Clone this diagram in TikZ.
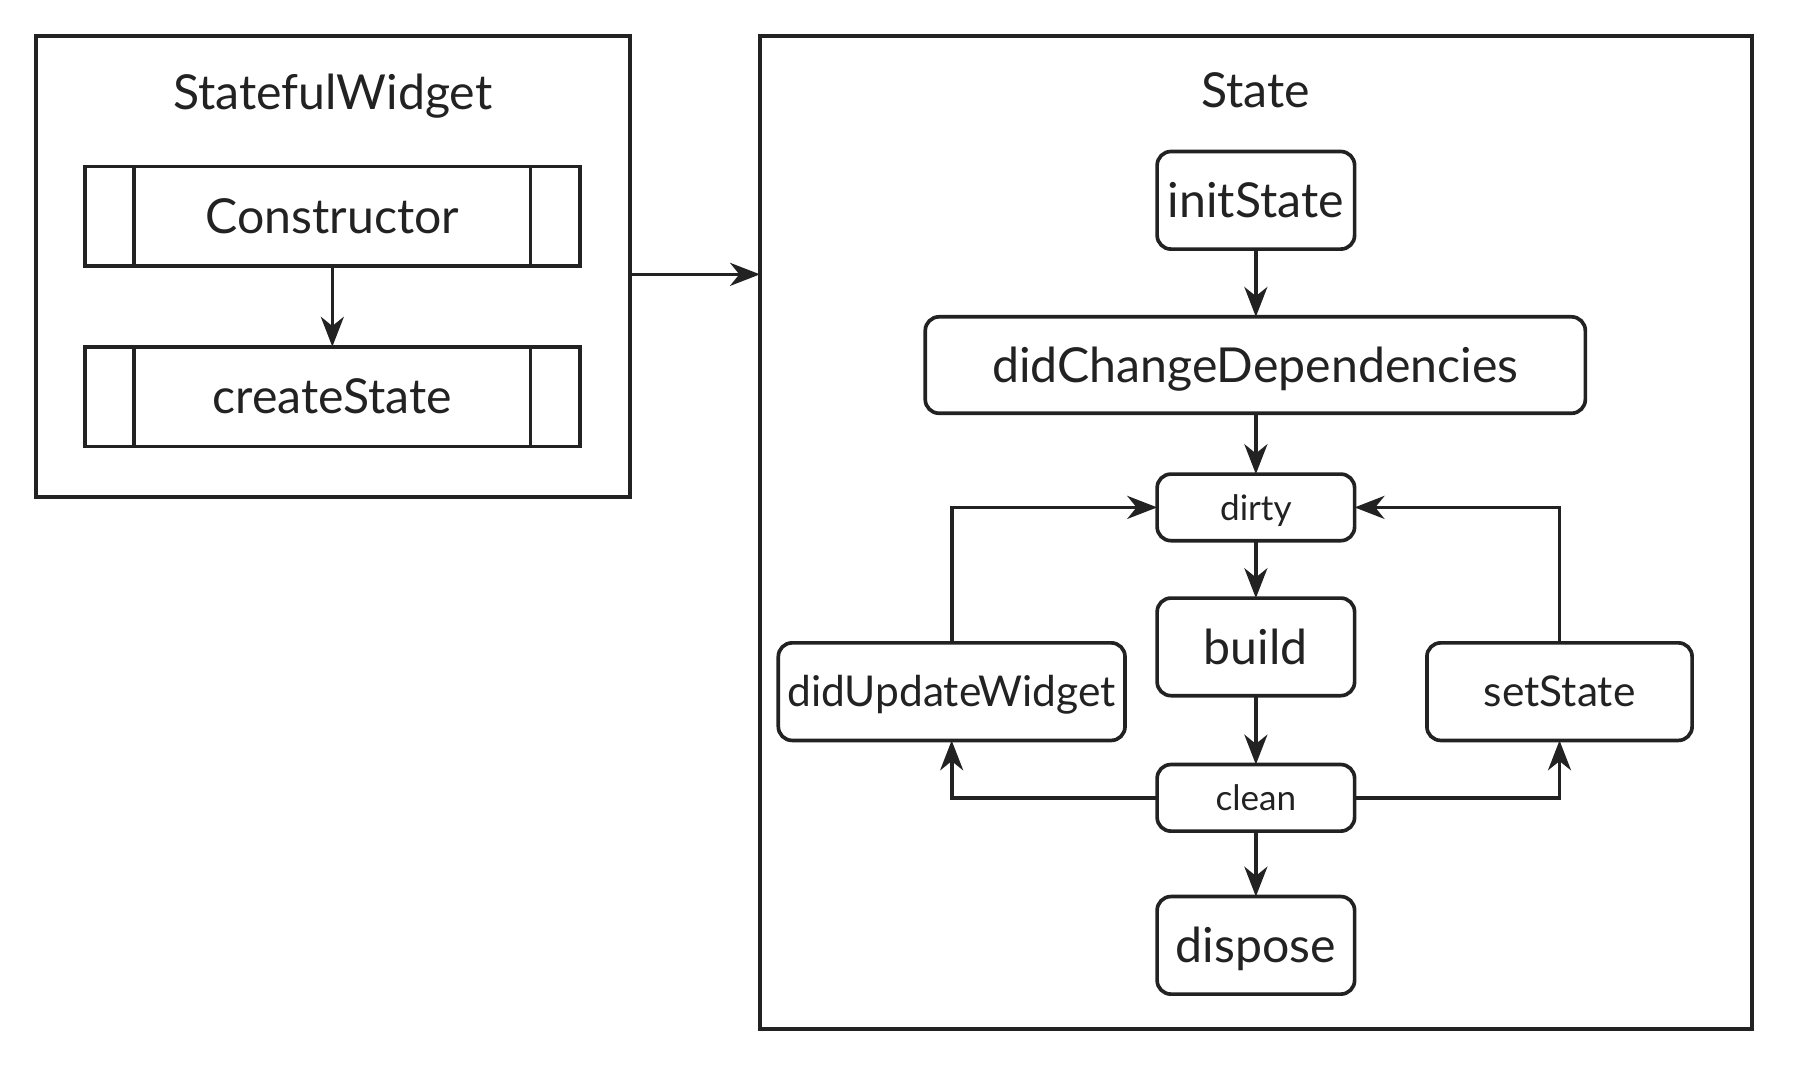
\documentclass[tikz,border=0pt]{standalone}
\usepackage{fontspec}
\setmainfont{Lato}
\usetikzlibrary{arrows.meta,calc}
\definecolor{ink}{HTML}{222222}
\begin{document}
\begin{tikzpicture}[x=0.5pt,y=-0.5pt,
  every node/.style={inner sep=0pt, outer sep=0pt, text=ink},
  outer/.style={draw=ink, line width=1.7pt},
  procbox/.style={draw=ink, line width=1.6pt, minimum width=215.5pt, minimum height=43.5pt},
  rbox/.style={draw=ink, line width=1.6pt, rounded corners=6pt},
  big/.style={font=\fontsize{21}{25}\selectfont, text height=15pt, text depth=0pt},
  mid/.style={font=\fontsize{18.5}{22}\selectfont, text height=13.3pt, text depth=0pt},
  small/.style={font=\fontsize{15.3}{18}\selectfont, text height=11pt, text depth=0pt},
  title/.style={font=\fontsize{21}{25}\selectfont, anchor=base},
  arr/.style={draw=ink, line width=1.6pt, -{Stealth[length=13pt,width=10pt,inset=4pt]}},
]
\useasboundingbox (0,0) rectangle (1568,930);

% outer containers
\node[outer, minimum width=259pt, minimum height=201pt] (sw) at (290,232) {};
\node[outer, minimum width=432pt, minimum height=432.5pt] (st) at (1094,463.5) {};
\node[title] (swt) at (290,95) {StatefulWidget};
\node[title] (stt) at (1094,94) {State};

% predefined-process boxes
\node[procbox, big] (cons) at (289.5,188.5) {Constructor};
\node[procbox, big] (cst) at (289.5,345.5) {createState};
\foreach \n in {cons,cst}{
  \draw[draw=ink, line width=1.6pt] ($(\n.north west)+(43,0)$) -- ($(\n.south west)+(43,0)$);
  \draw[draw=ink, line width=1.6pt] ($(\n.north east)+(-43,0)$) -- ($(\n.south east)+(-43,0)$);
}

% state nodes
\node[rbox, big, minimum width=86pt, minimum height=42.5pt] (init) at (1094,174.5) {initState};
\node[rbox, big, minimum width=287.5pt, minimum height=42pt] (dcd) at (1093.5,318) {didChangeDependencies};
\node[rbox, small, minimum width=86pt, minimum height=29pt] (dirty) at (1094,442) {dirty};
\node[rbox, big, minimum width=86pt, minimum height=42.5pt] (build) at (1094,563.5) {build};
\node[rbox, small, minimum width=86pt, minimum height=29pt] (clean) at (1094,695) {clean};
\node[rbox, big, minimum width=86pt, minimum height=42.5pt] (disp) at (1094,823.5) {dispose};
\node[rbox, mid, minimum width=151pt, minimum height=42.5pt] (duw) at (829,602.5) {didUpdateWidget};
\node[rbox, mid, minimum width=115.5pt, minimum height=42.5pt] (ss) at (1358.5,602.5) {setState};

% connectors
\draw[arr] (cons.south) -- (cst.north);
\coordinate (ya) at (0,239);
\draw[arr] (sw.east |- ya) -- (st.west |- ya);
\draw[arr] (init.south) -- (dcd.north -| init.south);
\draw[arr] (dcd.south -| dirty.north) -- (dirty.north);
\draw[arr] (dirty.south) -- (build.north);
\draw[arr] (build.south) -- (clean.north);
\draw[arr] (clean.south) -- (disp.north);
\draw[arr] (duw.north) |- (dirty.west);
\draw[arr] (ss.north) |- (dirty.east);
\draw[arr] (clean.west) -| (duw.south);
\draw[arr] (clean.east) -| (ss.south);
\end{tikzpicture}
\end{document}
